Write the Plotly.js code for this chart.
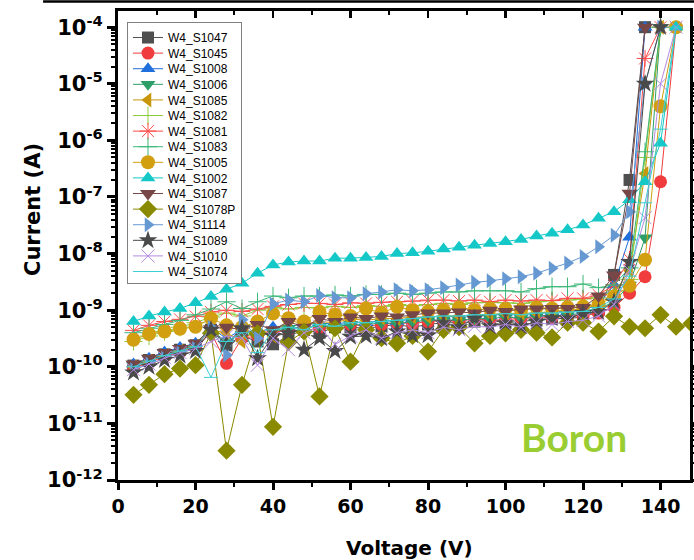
<!DOCTYPE html>
<html>
<head>
<meta charset="utf-8">
<script src="https://cdn.plot.ly/plotly-3.0.1.min.js"></script>
<style>
  html, body { margin: 0; padding: 0; background: #ffffff; }
  #chart { width: 694px; height: 560px; }
</style>
</head>
<body>
<div id="chart"></div>
<script>
// Bias voltage steps (V)
const voltage = [4, 8, 12, 16, 20, 24, 28, 32, 36, 40, 44, 48, 52, 56, 60, 64, 68, 72, 76, 80,
                 84, 88, 92, 96, 100, 104, 108, 112, 116, 120, 124, 128, 132, 136, 140, 144, 148];

// Leakage current (A) per sensor; each sweep stops once the compliance limit is reached
const W4_S1047 = [1.05e-10, 1.32e-10, 1.66e-10, 2.0e-10, 2.4e-10, 4.5e-10, 2.4e-10, 3.5e-10, 2.8e-10, 2.5e-10,
  3.5e-10, 4.5e-10, 4.0e-10, 5.0e-10, 5.0e-10, 4.8e-10, 5.2e-10, 5.6e-10, 5.0e-10, 5.6e-10,
  6.0e-10, 6.0e-10, 6.3e-10, 6.6e-10, 6.0e-10, 6.3e-10, 6.6e-10, 7.1e-10, 7.1e-10, 7.6e-10,
  1.0e-9, 4.2e-9, 2.0e-7, 1e-4];
const W4_S1045 = [9.5e-11, 1.2e-10, 1.51e-10, 1.82e-10, 2.2e-10, 4.0e-10, 1.15e-10, 3.2e-10, 3.5e-10, 4.0e-10,
  4.5e-10, 4.2e-10, 5.0e-10, 5.2e-10, 5.6e-10, 5.2e-10, 5.6e-10, 6.0e-10, 5.8e-10, 6.3e-10,
  6.6e-10, 6.3e-10, 7.1e-10, 6.6e-10, 6.8e-10, 7.1e-10, 7.6e-10, 7.4e-10, 7.9e-10, 7.9e-10,
  8.9e-10, 1.12e-9, 2.0e-9, 3.9e-9, 1.86e-7, 1e-4];
const W4_S1008 = [1.12e-10, 1.41e-10, 1.82e-10, 2.2e-10, 2.6e-10, 4.8e-10, 3.2e-10, 4.5e-10, 4.0e-10, 5.0e-10,
  5.2e-10, 5.6e-10, 6.0e-10, 5.6e-10, 6.3e-10, 6.0e-10, 6.6e-10, 6.3e-10, 7.1e-10, 7.6e-10,
  7.9e-10, 7.6e-10, 8.3e-10, 7.9e-10, 8.9e-10, 8.3e-10, 8.9e-10, 9.3e-10, 9.5e-10, 1.0e-9,
  1.26e-9, 2.8e-9, 1.95e-8, 1e-4];
const W4_S1006 = [1.07e-10, 1.38e-10, 1.74e-10, 2.1e-10, 2.5e-10, 4.4e-10, 2.8e-10, 3.8e-10, 3.5e-10, 4.2e-10,
  4.8e-10, 5.0e-10, 5.2e-10, 5.0e-10, 5.6e-10, 5.5e-10, 6.0e-10, 5.8e-10, 6.3e-10, 6.6e-10,
  6.8e-10, 6.6e-10, 7.1e-10, 7.1e-10, 7.6e-10, 7.2e-10, 7.9e-10, 7.9e-10, 8.3e-10, 8.7e-10,
  1.05e-9, 1.41e-9, 2.8e-9, 1.9e-8, 1e-4];
const W4_S1085 = [1.0e-10, 1.26e-10, 1.58e-10, 1.9e-10, 2.3e-10, 4.5e-10, 4.0e-10, 2.8e-10, 5.0e-10, 3.5e-10,
  6.8e-10, 5.6e-10, 6.3e-10, 6.0e-10, 7.1e-10, 6.6e-10, 7.2e-10, 7.1e-10, 7.6e-10, 7.6e-10,
  7.9e-10, 7.9e-10, 8.3e-10, 8.5e-10, 8.7e-10, 8.9e-10, 8.9e-10, 9.5e-10, 1.0e-9, 1.05e-9,
  1.26e-9, 2.0e-9, 5.0e-9, 2.6e-7, 1e-4];
const W4_S1082 = [2.8e-10, 3.5e-10, 4.2e-10, 5.0e-10, 6.0e-10, 7.6e-10, 8.9e-10, 7.9e-10, 1.0e-9, 1.12e-9,
  1.05e-9, 1.12e-9, 1.1e-9, 1.17e-9, 1.12e-9, 1.2e-9, 1.17e-9, 1.26e-9, 1.2e-9, 1.26e-9,
  1.32e-9, 1.26e-9, 1.35e-9, 1.38e-9, 1.35e-9, 1.32e-9, 1.41e-9, 1.48e-9, 1.51e-9, 1.58e-9,
  1.66e-9, 2.2e-9, 3.5e-9, 5.0e-7, 1e-4];
const W4_S1081 = [4.4e-10, 5.4e-10, 6.3e-10, 6.9e-10, 7.8e-10, 9.3e-10, 1.0e-9, 9.5e-10, 1.05e-9, 1.17e-9,
  1.26e-9, 1.32e-9, 1.32e-9, 1.26e-9, 1.35e-9, 1.32e-9, 1.38e-9, 1.41e-9, 1.45e-9, 1.51e-9,
  1.51e-9, 1.45e-9, 1.51e-9, 1.41e-9, 1.51e-9, 1.45e-9, 1.51e-9, 1.48e-9, 1.62e-9, 1.62e-9,
  1.86e-9, 2.8e-9, 7.9e-9, 2.8e-5, 1e-4];
const W4_S1083 = [4.0e-10, 4.8e-10, 5.6e-10, 6.6e-10, 8.3e-10, 1.05e-9, 1.41e-9, 1.07e-9, 1.41e-9, 1.78e-9,
  1.66e-9, 1.78e-9, 1.78e-9, 1.86e-9, 1.78e-9, 1.9e-9, 1.9e-9, 2.0e-9, 1.9e-9, 2.0e-9,
  2.1e-9, 2.1e-9, 2.2e-9, 2.2e-9, 2.2e-9, 2.1e-9, 2.4e-9, 2.6e-9, 2.6e-9, 2.9e-9,
  2.5e-9, 2.8e-9, 5.6e-9, 6.3e-7, 1e-4];
const W4_S1005 = [3.0e-10, 3.8e-10, 4.2e-10, 4.7e-10, 5.1e-10, 7.2e-10, 5.4e-10, 5.0e-10, 6.3e-10, 8.7e-10,
  7.2e-10, 6.3e-10, 9.3e-10, 8.3e-10, 7.9e-10, 1.07e-9, 8.9e-10, 1.15e-9, 1.0e-9, 9.5e-10,
  1.0e-9, 1.12e-9, 1.0e-9, 1.07e-9, 1.05e-9, 1.0e-9, 1.12e-9, 1.07e-9, 1.12e-9, 1.17e-9,
  1.26e-9, 1.74e-9, 2.7e-9, 7.8e-9, 4.0e-6, 1e-4];
const W4_S1002 = [6.3e-10, 7.9e-10, 9.3e-10, 1.07e-9, 1.35e-9, 1.74e-9, 2.34e-9, 3.0e-9, 4.5e-9, 6.3e-9,
  7.1e-9, 7.4e-9, 7.4e-9, 8.3e-9, 8.3e-9, 8.5e-9, 8.9e-9, 1.0e-8, 1.03e-8, 1.1e-8,
  1.2e-8, 1.29e-8, 1.41e-8, 1.51e-8, 1.62e-8, 1.78e-8, 2.04e-8, 2.29e-8, 2.63e-8, 3.2e-8,
  4.2e-8, 5.5e-8, 8.9e-8, 1.86e-7, 8.9e-7, 1e-4];
const W4_S1087 = [1.12e-10, 1.41e-10, 1.78e-10, 2.1e-10, 2.6e-10, 4.7e-10, 5.0e-10, 4.5e-10, 5.6e-10, 4.5e-10,
  6.3e-10, 5.0e-10, 7.1e-10, 6.3e-10, 7.6e-10, 7.1e-10, 7.9e-10, 7.6e-10, 8.3e-10, 8.9e-10,
  8.9e-10, 9.3e-10, 8.9e-10, 1.0e-9, 9.5e-10, 1.05e-9, 1.05e-9, 1.07e-9, 1.07e-9, 1.12e-9,
  1.78e-9, 4.2e-9, 1.17e-7, 1e-4];
const W4_S1078P = [3.2e-11, 4.8e-11, 7.4e-11, 9.3e-11, 1.07e-10, 3.9e-10, 3.3e-12, 4.8e-11, 3.9e-10, 8.7e-12,
  2.75e-10, 4.2e-10, 3.0e-11, 4.8e-10, 1.23e-10, 4.5e-10, 3.2e-10, 2.6e-10, 3.5e-10, 1.86e-10,
  4.5e-10, 5.0e-10, 2.6e-10, 3.5e-10, 3.9e-10, 4.5e-10, 4.0e-10, 3.3e-10, 6.0e-10, 6.0e-10,
  4.2e-10, 7.8e-10, 5.1e-10, 4.8e-10, 8.3e-10, 5.1e-10, 5.8e-10];
const W4_S1114 = [8.9e-11, 1.12e-10, 1.41e-10, 1.74e-10, 2.1e-10, 5.0e-10, 1.62e-10, 6.8e-10, 3.2e-10, 1.29e-9,
  1.51e-9, 1.41e-9, 1.82e-9, 1.66e-9, 1.66e-9, 1.95e-9, 2.1e-9, 2.3e-9, 2.2e-9, 2.3e-9,
  2.5e-9, 2.8e-9, 3.1e-9, 3.3e-9, 3.6e-9, 3.9e-9, 4.5e-9, 5.5e-9, 6.8e-9, 8.9e-9,
  1.32e-8, 2.1e-8, 5.5e-8, 1.0e-5, 1e-4];
const W4_S1089 = [7.9e-11, 1.0e-10, 1.32e-10, 1.58e-10, 1.9e-10, 4.5e-10, 2.5e-10, 4.8e-10, 1.41e-10, 3.5e-10,
  3.9e-10, 2.0e-10, 3.2e-10, 1.9e-10, 3.4e-10, 3.5e-10, 3.2e-10, 4.2e-10, 3.6e-10, 3.6e-10,
  5.9e-10, 5.0e-10, 7.2e-10, 5.2e-10, 5.9e-10, 5.2e-10, 6.3e-10, 7.2e-10, 7.1e-10, 8.9e-10,
  9.3e-10, 1.41e-9, 7.1e-9, 1.0e-5, 1e-4];
const W4_S1010 = [8.9e-11, 1.12e-10, 1.45e-10, 1.78e-10, 2.1e-10, 2.8e-10, 3.5e-10, 3.2e-10, 1.07e-10, 3.2e-10,
  2.0e-10, 4.0e-10, 5.1e-10, 2.5e-10, 3.5e-10, 4.5e-10, 3.2e-10, 4.0e-10, 4.5e-10, 4.0e-10,
  5.0e-10, 4.5e-10, 5.2e-10, 5.0e-10, 5.6e-10, 5.0e-10, 6.0e-10, 5.6e-10, 6.3e-10, 6.6e-10,
  7.9e-10, 1.26e-9, 5.0e-9, 4.3e-8, 1.0e-5, 1e-4];
const W4_S1074 = [1.0e-10, 1.26e-10, 1.58e-10, 1.9e-10, 2.3e-10, 6.5e-11, 2.8e-10, 4.0e-10, 1.78e-10, 4.5e-10,
  5.0e-10, 4.5e-10, 5.6e-10, 5.2e-10, 6.0e-10, 6.0e-10, 6.3e-10, 6.6e-10, 7.1e-10, 7.6e-10,
  7.9e-10, 7.9e-10, 8.3e-10, 8.3e-10, 8.7e-10, 8.3e-10, 8.9e-10, 8.9e-10, 9.3e-10, 9.5e-10,
  1.12e-9, 1.58e-9, 4.0e-9, 7.9e-8, 1.58e-6, 1e-4];

// Series names, in legend order
const seriesNames = ['W4_S1047', 'W4_S1045', 'W4_S1008', 'W4_S1006', 'W4_S1085', 'W4_S1082', 'W4_S1081', 'W4_S1083',
                     'W4_S1005', 'W4_S1002', 'W4_S1087', 'W4_S1078P', 'W4_S1114', 'W4_S1089', 'W4_S1010', 'W4_S1074'];
const seriesData = [W4_S1047, W4_S1045, W4_S1008, W4_S1006, W4_S1085, W4_S1082, W4_S1081, W4_S1083,
                    W4_S1005, W4_S1002, W4_S1087, W4_S1078P, W4_S1114, W4_S1089, W4_S1010, W4_S1074];

// Y tick labels (decades)
const yTickVals = [1e-12, 1e-11, 1e-10, 1e-9, 1e-8, 1e-7, 1e-6, 1e-5, 1e-4];
const yTickText = ['10<sup>-12</sup>', '10<sup>-11</sup>', '10<sup>-10</sup>', '10<sup>-9</sup>', '10<sup>-8</sup>',
                   '10<sup>-7</sup>', '10<sup>-6</sup>', '10<sup>-5</sup>', '10<sup>-4</sup>'];

// Marker style per series
const styles = [
  { color: '#4f4f4f', symbol: 'square',         size: 12 },
  { color: '#f03c3c', symbol: 'circle',         size: 13 },
  { color: '#1f6fdc', symbol: 'triangle-up',    size: 13 },
  { color: '#2e9e68', symbol: 'triangle-down',  size: 13 },
  { color: '#c8960a', symbol: 'triangle-left',  size: 13 },
  { color: '#8ccc3c', symbol: 'cross-thin',     size: 13, open: true },
  { color: '#ff4a4a', symbol: 'asterisk-open',  size: 14, open: true },
  { color: '#3cb878', symbol: 'cross-thin',     size: 13, open: true },
  { color: '#d19f0f', symbol: 'circle',         size: 14 },
  { color: '#14c8c8', symbol: 'triangle-up',    size: 13 },
  { color: '#774646', symbol: 'triangle-down',  size: 14 },
  { color: '#8a8a00', symbol: 'diamond',        size: 14 },
  { color: '#6699d2', symbol: 'triangle-right', size: 13 },
  { color: '#4a4a4a', symbol: 'star',           size: 14 },
  { color: '#b38ae0', symbol: 'x-thin',         size: 13, open: true },
  { color: '#3ccfd2', symbol: 'line-ew',        size: 10, open: true }
];

const traces = seriesData.map((vals, i) => {
  const st = styles[i];
  return {
    type: 'scatter',
    mode: 'lines+markers',
    name: seriesNames[i],
    x: voltage.slice(0, vals.length),
    y: vals,
    line: { color: st.color, width: 1 },
    marker: {
      symbol: st.symbol,
      size: st.size,
      color: st.color,
      line: { color: st.color, width: st.open ? 1 : 0 }
    },
    xaxis: 'x',
    yaxis: 'y'
  };
});

// Empty trace that keeps the top (mirror) axis alive
traces.push({ type: 'scatter', x: [], y: [], xaxis: 'x2', yaxis: 'y', showlegend: false, hoverinfo: 'skip' });

const FONT_BOLD = 'DejaVu Sans, Verdana, sans-serif';

const layout = {
  width: 694,
  height: 560,
  margin: { l: 118, r: 4, t: 11, b: 80, pad: 0 },
  paper_bgcolor: '#ffffff',
  plot_bgcolor: '#ffffff',
  showlegend: true,
  font: { family: 'Liberation Sans, Arial, sans-serif', color: '#000000' },
  xaxis: {
    range: [0, 147.6],
    tick0: 0, dtick: 20,
    ticks: 'outside', ticklen: 7, tickwidth: 3, tickcolor: '#000',
    showline: true, linewidth: 3, linecolor: '#000',
    showgrid: false, zeroline: false,
    tickfont: { family: FONT_BOLD, size: 19, color: '#000', weight: 'bold' },
    minor: { ticks: 'outside', ticklen: 4, tickwidth: 2, tickcolor: '#000', tick0: 0, dtick: 10, showgrid: false }
  },
  xaxis2: {
    overlaying: 'x', side: 'top', anchor: 'y',
    range: [0, 147.6],
    tick0: 0, dtick: 20,
    ticks: 'inside', ticklen: 7, tickwidth: 2.5, tickcolor: '#000',
    showline: true, linewidth: 3, linecolor: '#000',
    showticklabels: false, showgrid: false, zeroline: false,
    minor: { ticks: 'inside', ticklen: 4, tickwidth: 2, tickcolor: '#000', tick0: 0, dtick: 10, showgrid: false }
  },
  yaxis: {
    type: 'log',
    range: [-12, -3.714],
    tickvals: yTickVals,
    ticktext: yTickText,
    ticks: 'outside', ticklen: 8, tickwidth: 3, tickcolor: '#000',
    showline: true, linewidth: 3, linecolor: '#000', mirror: 'ticks',
    showgrid: false, zeroline: false,
    tickfont: { family: FONT_BOLD, size: 21, color: '#000', weight: 'bold' },
    minor: { ticks: 'outside', ticklen: 4, tickwidth: 2, tickcolor: '#000', dtick: 'D1', showgrid: false }
  },
  legend: {
    x: 0.0157, y: 0.9765, xanchor: 'left', yanchor: 'top',
    bgcolor: '#ffffff', bordercolor: '#808080', borderwidth: 1,
    font: { family: 'Liberation Sans, Arial, sans-serif', size: 12, color: '#000' },
    tracegroupgap: 0, itemwidth: 30
  },
  shapes: [
    { type: 'line', xref: 'paper', yref: 'paper', x0: -0.131, x1: 1.01, y0: 1.0203, y1: 1.0203,
      line: { color: '#000', width: 2.5 } }
  ],
  annotations: [
    { text: 'Current (A)', xref: 'paper', yref: 'paper', x: -0.1486, y: 0.5757, textangle: -90,
      xanchor: 'center', yanchor: 'middle', showarrow: false,
      font: { family: FONT_BOLD, size: 21, color: '#000', weight: 'bold' } },
    { text: 'Voltage (V)', xref: 'paper', yref: 'paper', x: 0.5096, y: -0.145,
      xanchor: 'center', yanchor: 'middle', showarrow: false,
      font: { family: FONT_BOLD, size: 20, color: '#000', weight: 'bold' } },
    { text: 'Boron', xref: 'paper', yref: 'paper', x: 0.797, y: 0.0917,
      xanchor: 'center', yanchor: 'middle', showarrow: false,
      font: { family: 'Lato, sans-serif', size: 39, color: '#9acd32', weight: 'bold' } }
  ]
};

Plotly.newPlot('chart', traces, layout, { displayModeBar: false, staticPlot: true }).then(gd => {
  // Tighten legend row spacing
  const items = gd.querySelectorAll('.legend .traces');
  if (items.length > 1) {
    const getY = el => {
      const m = /translate\(\s*([-\d.]+)[ ,]+([-\d.]+)\s*\)/.exec(el.getAttribute('transform') || '');
      return m ? [parseFloat(m[1]), parseFloat(m[2])] : [0, 0];
    };
    const first = getY(items[0]);
    const oldStep = getY(items[1])[1] - first[1];
    const newStep = 15.6;
    items.forEach((el, i) => {
      const p = getY(el);
      el.setAttribute('transform', 'translate(' + p[0] + ',' + (first[1] + i * newStep) + ')');
    });
    const shrink = (oldStep - newStep) * items.length;
    gd.querySelectorAll('.legend rect.bg').forEach(r => {
      const h = parseFloat(r.getAttribute('height'));
      r.setAttribute('height', h - shrink);
    });
  }
});
</script>
</body>
</html>
